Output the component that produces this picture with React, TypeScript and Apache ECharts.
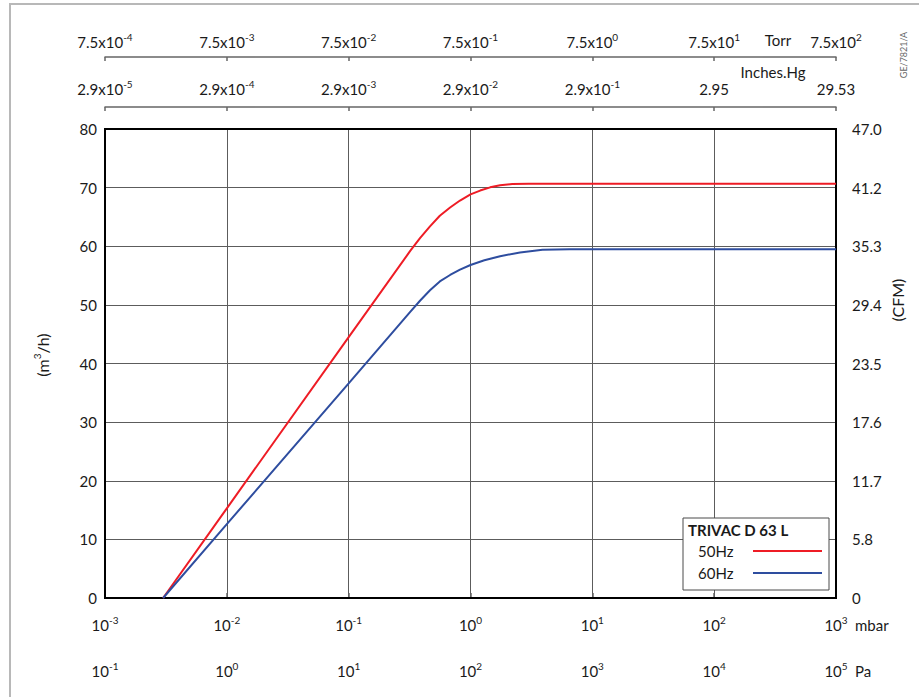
import React, { useEffect, useRef } from 'react';
import * as echarts from 'echarts';

const FONT = 'Lato, "Open Sans", sans-serif';

// Pumping speed curves (x: pressure in mbar, y: m3/h)
const pressure50 = [0.003, 0.01, 0.1, 0.32, 0.385, 0.465, 0.56, 0.68, 0.82, 1.0, 1.2, 1.45, 1.75, 2.2, 3, 1000];
const speed50 = [0, 15.3, 44.5, 59.2, 61.4, 63.4, 65.2, 66.6, 67.8, 68.85, 69.5, 70.05, 70.4, 70.6, 70.65, 70.65];
const pressure60 = [0.003, 0.01, 0.1, 0.32, 0.385, 0.465, 0.56, 0.68, 0.82, 1.0, 1.3, 1.75, 2.55, 3.9, 6.5, 1000];
const speed60 = [0, 12.6, 36.6, 48.8, 50.7, 52.5, 54.0, 55.1, 56.0, 56.8, 57.6, 58.3, 58.95, 59.4, 59.5, 59.5];

// Tick labels
const mbarLabels = ['10^-3', '10^-2', '10^-1', '10^0', '10^1', '10^2', '10^3'];
const paLabels = ['10^-1', '10^0', '10^1', '10^2', '10^3', '10^4', '10^5'];
const torrLabels = ['7.5x10^-4', '7.5x10^-3', '7.5x10^-2', '7.5x10^-1', '7.5x10^0', '7.5x10^1', '7.5x10^2'];
const hgLabels = ['2.9x10^-5', '2.9x10^-4', '2.9x10^-3', '2.9x10^-2', '2.9x10^-1', '2.95', '29.53'];
const cfmLabels = ['0', '5.8', '11.7', '17.6', '23.5', '29.4', '35.3', '41.2', '47.0'];

const toRich = (s: string) => {
  const parts = s.split('^');
  return parts.length > 1 ? `{b|${parts[0]}}{s|${parts[1]}}` : `{b|${parts[0]}}`;
};
const decadeIdx = (v: number) => Math.round(Math.log10(v)) + 3;

const TEXT = '#1a1a1a';
const rich = {
  b: { fontSize: 15, lineHeight: 20, fontFamily: FONT, color: TEXT },
  s: { fontSize: 10, lineHeight: 13, fontFamily: FONT, color: TEXT, verticalAlign: 'top' },
};

export default function App() {
  const ref = useRef<HTMLDivElement>(null);
  useEffect(() => {
    if (!ref.current) return;
    const chart = echarts.init(ref.current, undefined, { renderer: 'svg' });
    const baseX = {
      type: 'log',
      logBase: 10,
      min: 0.001,
      max: 1000,
      gridIndex: 0,
    };
    const option: any = {
      animation: false,
      backgroundColor: '#fff',
      textStyle: { fontFamily: FONT },
      grid: {
        left: 105,
        right: 83,
        top: 129,
        bottom: 99,
        show: true,
        borderColor: '#000',
        borderWidth: 2,
        backgroundColor: 'transparent',
        z: 3,
      },
      xAxis: [
        {
          ...baseX,
          position: 'bottom',
          offset: 46,
          axisLine: { show: true, lineStyle: { color: '#666', width: 1.5 } },
          axisTick: { show: true, inside: true, length: 5, lineStyle: { color: '#666', width: 1.5 } },
          axisLabel: {
            inside: true,
            margin: 9,
            formatter: (v: number) => toRich(mbarLabels[decadeIdx(v)]),
            rich,
          },
          splitLine: { show: true, lineStyle: { color: '#5c5c5c', width: 1 } },
          minorTick: { show: false },
        },
        {
          ...baseX,
          position: 'bottom',
          offset: 46,
          axisLine: { show: false },
          axisTick: { show: false },
          axisLabel: {
            margin: 17,
            formatter: (v: number) => toRich(paLabels[decadeIdx(v)]),
            rich,
          },
          splitLine: { show: false },
        },
        {
          ...baseX,
          position: 'top',
          offset: 72,
          axisLine: { show: true, lineStyle: { color: '#666', width: 1.5 } },
          axisTick: { show: true, inside: true, length: 4, lineStyle: { color: '#666', width: 1.5 } },
          axisLabel: {
            margin: 5,
            formatter: (v: number) => toRich(torrLabels[decadeIdx(v)]),
            rich,
          },
          splitLine: { show: false },
        },
        {
          ...baseX,
          position: 'top',
          offset: 22,
          axisLine: { show: true, lineStyle: { color: '#666', width: 1.5 } },
          axisTick: { show: true, inside: true, length: 4, lineStyle: { color: '#666', width: 1.5 } },
          axisLabel: {
            margin: 8,
            formatter: (v: number) => toRich(hgLabels[decadeIdx(v)]),
            rich,
          },
          splitLine: { show: false },
        },
      ],
      yAxis: [
        {
          type: 'value',
          position: 'left',
          min: 0,
          max: 80,
          interval: 10,
          axisLine: { show: false },
          axisTick: { show: false },
          axisLabel: { margin: 8, fontSize: 15, color: TEXT, fontFamily: FONT },
          splitLine: { show: true, lineStyle: { color: '#5c5c5c', width: 1 } },
        },
        {
          type: 'value',
          position: 'right',
          min: 0,
          max: 80,
          interval: 10,
          axisLine: { show: false },
          axisTick: { show: false },
          axisLabel: {
            margin: 16,
            fontSize: 15,
            color: TEXT,
            fontFamily: FONT,
            formatter: (v: number) => cfmLabels[Math.round(v / 10)],
          },
          splitLine: { show: false },
        },
      ],
      legend: {
        orient: 'vertical',
        left: 683,
        top: 518,
        align: 'right',
        padding: [23, 7, 7, 15],
        itemGap: 2,
        itemWidth: 69,
        itemHeight: 2,
        icon: 'rect',
        backgroundColor: '#fff',
        borderColor: '#4a4a4a',
        borderWidth: 1,
        formatter: (name: string) => `{t|${name}}`,
        textStyle: {
          fontFamily: FONT,
          fontSize: 15,
          color: TEXT,
          rich: {
            t: { width: 50, height: 20, lineHeight: 20, align: 'left', fontSize: 15, fontFamily: FONT, color: TEXT },
          },
        },
        data: ['50Hz', '60Hz'],
        z: 10,
      },
      series: [
        {
          name: '50Hz',
          type: 'line',
          xAxisIndex: 0,
          yAxisIndex: 0,
          data: pressure50.map((p, i) => [p, speed50[i]]),
          showSymbol: false,
          symbol: 'none',
          smooth: false,
          lineStyle: { color: '#ee1c25', width: 2 },
          itemStyle: { color: '#ee1c25' },
          z: 5,
        },
        {
          name: '60Hz',
          type: 'line',
          xAxisIndex: 0,
          yAxisIndex: 0,
          data: pressure60.map((p, i) => [p, speed60[i]]),
          showSymbol: false,
          symbol: 'none',
          smooth: false,
          lineStyle: { color: '#2e4d9f', width: 2 },
          itemStyle: { color: '#2e4d9f' },
          z: 5,
        },
      ],
      graphic: [
        {
          type: 'polyline',
          shape: { points: [[10, 697], [10, 4], [919, 4]] },
          style: { stroke: '#b8b8b8', lineWidth: 2, fill: null },
          silent: true,
        },
        {
          type: 'text',
          x: 778,
          y: 40,
          style: { text: 'Torr', fontSize: 15, fontFamily: FONT, fill: TEXT, align: 'center', verticalAlign: 'middle' },
        },
        {
          type: 'text',
          x: 773,
          y: 72,
          style: { text: 'Inches.Hg', fontSize: 15, fontFamily: FONT, fill: TEXT, align: 'center', verticalAlign: 'middle' },
        },
        {
          type: 'text',
          x: 855,
          y: 625,
          style: { text: 'mbar', fontSize: 15, fontFamily: FONT, fill: TEXT, align: 'left', verticalAlign: 'middle' },
        },
        {
          type: 'text',
          x: 855,
          y: 671,
          style: { text: 'Pa', fontSize: 15, fontFamily: FONT, fill: TEXT, align: 'left', verticalAlign: 'middle' },
        },
        {
          type: 'text',
          x: 42,
          y: 355,
          rotation: Math.PI / 2,
          style: {
            text: '{b|(m}{s|3}{b|/h)}',
            align: 'center',
            verticalAlign: 'middle',
            rich: {
              b: { fontSize: 16, lineHeight: 20, fontFamily: FONT, fill: TEXT, color: TEXT },
              s: { fontSize: 10, lineHeight: 13, fontFamily: FONT, fill: TEXT, color: TEXT, verticalAlign: 'top' },
            },
          },
        },
        {
          type: 'text',
          x: 897,
          y: 300,
          rotation: Math.PI / 2,
          style: { text: '(CFM)', fontSize: 16, fontFamily: FONT, fill: TEXT, align: 'center', verticalAlign: 'middle' },
        },
        {
          type: 'text',
          x: 903,
          y: 55,
          rotation: Math.PI / 2,
          style: { text: 'GE/7821/A', fontSize: 9, fontFamily: FONT, fill: '#666', align: 'center', verticalAlign: 'middle' },
        },
        {
          type: 'text',
          x: 688,
          y: 530,
          z: 100,
          style: { text: 'TRIVAC D 63 L', fontSize: 15, fontWeight: 'bold', fontFamily: FONT, fill: TEXT, align: 'left', verticalAlign: 'middle' },
        },
      ],
    };
    chart.setOption(option);
    return () => chart.dispose();
  }, []);
  return (
    <div
      ref={ref}
      style={{ position: 'fixed', left: 0, top: 0, width: 919, height: 697 }}
    />
  );
}
